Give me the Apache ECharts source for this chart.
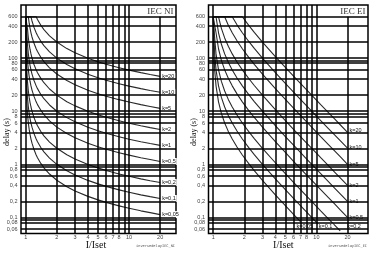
<!DOCTYPE html>
<html><head><meta charset="utf-8">
<script src="https://cdn.jsdelivr.net/npm/echarts@6/dist/echarts.min.js"></script>
<style>html,body{margin:0;padding:0;background:#fff}#c{width:369px;height:253px}</style>
</head><body><div id="c"></div>
<script>
// ---- data ----
const kLabels = ['k=20','k=10','k=5','k=2','k=1','k=0,5','k=0,2','k=0,1','k=0,05'];

// IEC NI (normal inverse) curves: current multiple I/Iset and delay (s)
const niX = [1.0,1.01,1.02,1.04,1.06,1.08,1.1,1.124,1.15,1.2,1.262,1.3,1.4,1.5,1.7,2,2.5,3,4,5,6,8,10,13,16,20];
const niK20 = [600,600,600,600,600,600,600,600,600,600,600,532,415,344,262,201,151,126,99.6,85.6,76.7,65.9,59.4,53.2,49.1,45.3];
const niK10 = [600,600,600,600,600,600,600,598,500,383,300,266,207,172,131,100,75.7,63.0,49.8,42.8,38.4,33.0,29.7,26.6,24.6,22.7];
const niK5 = [600,600,600,600,600,454,367,299,250,192,150,133,104,86.0,65.6,50.2,37.9,31.5,24.9,21.4,19.2,16.5,14.9,13.3,12.3,11.3];
const niK2 = [600,600,600,357,240,182,147,120,100,76.6,60.0,53.2,41.5,34.4,26.2,20.1,15.1,12.6,9.96,8.56,7.67,6.59,5.94,5.32,4.91,4.53];
const niK1 = [600,600,353,178,120,90.9,73.4,59.8,50.0,38.3,30.0,26.6,20.7,17.2,13.1,10.0,7.57,6.30,4.98,4.28,3.84,3.30,2.97,2.66,2.46,2.27];
const niK05 = [600,352,177,89.2,60.0,45.4,36.7,29.9,25.0,19.2,15.0,13.3,10.4,8.60,6.56,5.01,3.79,3.15,2.49,2.14,1.92,1.65,1.49,1.33,1.23,1.13];
const niK02 = [600,141,70.7,35.7,24.0,18.2,14.7,12.0,10.0,7.66,6.00,5.32,4.15,3.44,2.62,2.01,1.51,1.26,0.996,0.856,0.767,0.659,0.594,0.532,0.491,0.453];
const niK01 = [600,70.4,35.3,17.8,12.0,9.09,7.34,5.98,5.00,3.83,3.00,2.66,2.07,1.72,1.31,1.00,0.757,0.630,0.498,0.428,0.384,0.330,0.297,0.266,0.246,0.227];
const niK005 = [600,35.2,17.7,8.92,6.00,4.54,3.67,2.99,2.50,1.92,1.50,1.33,1.04,0.860,0.656,0.501,0.379,0.315,0.249,0.214,0.192,0.165,0.149,0.133,0.123,0.113];

// IEC EI (extremely inverse) curves
const eiX = [1.0,1.00333,1.00665,1.0132,1.0328,1.0646,1.1255,1.2,1.291,1.4,1.528,1.7,1.915,2.2,2.5,3,4,5,6,7,8,10,11,13,15,17,20];
const eiK20 = [600,600,600,600,600,600,600,600,600,600,600,600,600,417,305,200,107,66.7,45.7,33.3,25.4,16.2,13.3,9.52,7.14,5.56,4.01];
const eiK10 = [600,600,600,600,600,600,600,600,600,600,600,423,300,208,152,100,53.3,33.3,22.9,16.7,12.7,8.08,6.67,4.76,3.57,2.78,2.01];
const eiK5 = [600,600,600,600,600,600,600,600,600,417,300,212,150,104,76.2,50,26.7,16.7,11.4,8.33,6.35,4.04,3.33,2.38,1.79,1.39,1.00];
const eiK2 = [600,600,600,600,600,600,600,364,240,167,120,84.7,60.0,41.7,30.5,20,10.7,6.67,4.57,3.33,2.54,1.62,1.33,0.952,0.714,0.556,0.401];
const eiK1 = [600,600,600,600,600,600,300,182,120,83.3,59.9,42.3,30.0,20.8,15.2,10,5.33,3.33,2.29,1.67,1.27,0.808,0.667,0.476,0.357,0.278,0.200];
const eiK05 = [600,600,600,600,600,300,150,90.9,60.0,41.7,30.0,21.2,15.0,10.4,7.62,5,2.67,1.67,1.14,0.833,0.635,0.404,0.333,0.238,0.179,0.139,0.100];
const eiK02 = [600,600,600,600,240,120,60.0,36.4,24.0,16.7,12.0,8.47,6.00,4.17,3.05,2,1.07,0.667,0.457,0.333,0.254,0.162,0.133,0.0952,0.0714,0.0556];
const eiK01 = [600,600,600,301,120,60.0,30.0,18.2,12.0,8.33,5.99,4.23,3.00,2.08,1.52,1.00,0.533,0.333,0.229,0.167,0.127,0.0808,0.0667];
const eiK005 = [600,600,300,151,60.0,30.0,15.0,9.09,6.00,4.17,3.00,2.12,1.50,1.04,0.762,0.5,0.267,0.167,0.114,0.0833];

// axis ticks
const yTickValues = [600,400,200,100,80,60,40,20,10,8,6,4,2,1,0.8,0.6,0.4,0.2,0.1,0.08,0.06];
const yTickText = ['600','400','200','100','80','60','40','20','10','8','6','4','2','1','0,8','0,6','0,4','0,2','0,1','0,08','0,06'];
const xTickValues = [1,2,3,4,5,6,7,8,10,20];
const xTickText = ['1','2','3','4','5','6','7','8','10','20'];
const yGridValues = [600,400,200,100,90,80,60,40,20,10,9,8,6,4,2,1,0.9,0.8,0.6,0.4,0.2,0.1,0.09,0.08,0.06];
const xGridValues = [1,2,3,4,5,6,7,8,9,10];
const panelTitles = ['IEC NI','IEC EI'];
const fileNotes = ['inversedelayIEC_NI','inversedelayIEC_EI'];

// ---- chart ----
const chart = echarts.init(document.getElementById('c'), null, {renderer:'canvas'});
const niSets = [niK20,niK10,niK5,niK2,niK1,niK05,niK02,niK01,niK005];
const eiSets = [eiK20,eiK10,eiK5,eiK2,eiK1,eiK05,eiK02,eiK01,eiK005];
const eiOffsets = [[0,-2],[0,-1],[0,0],[0,0],[0,0],[0,0],[5,-4],[-4,0],[-6,5]];

function curve(name, xs, ys, gi, off) {
  return {
    type:'line', name, xAxisIndex:gi, yAxisIndex:gi, silent:true,
    data: ys.map((y,i)=>[xs[i], y]),
    showSymbol:false, symbol:'none', z:3,
    lineStyle:{color:'#2a2a2a', width:1.1},
    endLabel:{show:true, formatter:name, fontSize:5.5, fontFamily:'Liberation Sans', color:'#111',
      backgroundColor:'#fff', padding:[1,1,0,1], distance:1, offset:off||[0,0]}
  };
}
function gridSeries(gi) {
  const data = [];
  yGridValues.forEach(v=>data.push({yAxis:v}));
  xGridValues.forEach(v=>data.push({xAxis:v}));
  data.push([{coord:[20,0.05]},{coord:[20,600]}]);
  return {type:'line', xAxisIndex:gi, yAxisIndex:gi, data:[[1,1]], symbol:'none', lineStyle:{opacity:0}, silent:true, z:2,
    markLine:{silent:true, symbol:['none','none'], label:{show:false}, animation:false,
      lineStyle:{color:'#000', width:1.5, type:'solid'}, emphasis:{disabled:true}, data}};
}
const hidden = {axisLine:{show:false}, axisTick:{show:false}, axisLabel:{show:false}, splitLine:{show:false}};
const series = [gridSeries(0), gridSeries(1)];
niSets.forEach((ys,i)=>series.push(curve(kLabels[i], niX, ys, 0)));
eiSets.forEach((ys,i)=>series.push(curve(kLabels[i], eiX, ys, 1, eiOffsets[i])));

chart.setOption({
  animation:false,
  grid:[
    {left:21, top:5, width:155, height:228.4, show:true, borderColor:'#000', borderWidth:1.5},
    {left:208.5, top:5, width:159.5, height:228.4, show:true, borderColor:'#000', borderWidth:1.5}
  ],
  xAxis:[
    Object.assign({type:'log', gridIndex:0, min:0.9, max:28.47}, hidden),
    Object.assign({type:'log', gridIndex:1, min:0.9, max:31.6}, hidden)
  ],
  yAxis:[
    Object.assign({type:'log', gridIndex:0, min:0.05, max:1000}, hidden),
    Object.assign({type:'log', gridIndex:1, min:0.05, max:1000}, hidden)
  ],
  series
});

const g = [];
const tickFont = {fontSize:5.5, fontFamily:'Liberation Sans', fill:'#444'};
[0,1].forEach(gi=>{
  const left = chart.convertToPixel({gridIndex:gi}, [0.9, 1000]);
  const right = chart.convertToPixel({gridIndex:gi}, [gi===0?28.47:31.6, 0.05]);
  yTickValues.forEach((v,i)=>{
    const p = chart.convertToPixel({gridIndex:gi}, [1, v]);
    g.push({type:'text', style:Object.assign({text:yTickText[i], x:left[0]-3.5, y:p[1], align:'right', verticalAlign:'middle'}, tickFont)});
  });
  xTickValues.forEach((v,i)=>{
    const p = chart.convertToPixel({gridIndex:gi}, [v, 1]);
    g.push({type:'text', style:Object.assign({text:xTickText[i], x:p[0], y:right[1]+4.5, align:'center', verticalAlign:'middle'}, tickFont)});
  });
  const mid = chart.convertToPixel({gridIndex:gi}, [5, 1]);
  g.push({type:'text', style:{text:'I/Iset', x:mid[0]-2, y:right[1]+12, align:'center', verticalAlign:'middle', fontSize:10, fontFamily:'Liberation Serif', fill:'#111'}});
  g.push({type:'text', style:{text:fileNotes[gi], x:right[0]-1, y:right[1]+13, align:'right', verticalAlign:'middle', fontSize:3.6, fontFamily:'DejaVu Sans Mono', fill:'#555'}});
  g.push({type:'text', style:{text:panelTitles[gi], x:right[0]-2.5, y:left[1]+7, align:'right', verticalAlign:'middle', fontSize:9, fontFamily:'Liberation Serif', fill:'#333'}});
  g.push({type:'text', rotation:Math.PI/2, x:left[0]-14.5, y:132, style:{text:'delay (s)', x:0, y:0, align:'center', verticalAlign:'middle', fontSize:8, fontFamily:'Liberation Serif', fill:'#111'}});
});
chart.setOption({graphic:g});
</script>
</body></html>
